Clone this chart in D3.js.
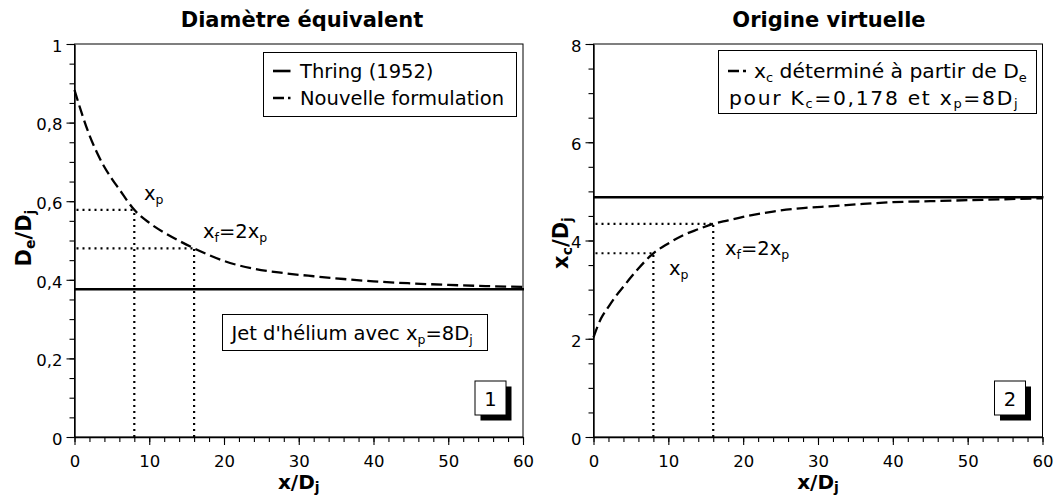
<!DOCTYPE html>
<html><head><meta charset="utf-8">
<script src="https://cdn.jsdelivr.net/npm/d3@7"></script>
<style>body{margin:0;background:#fff}svg{display:block;font-family:"DejaVu Sans",sans-serif}</style>
</head><body><svg id="c" width="1062" height="495"></svg>
<script>
// ---- data ----
const xValues = [0,1,2,3,4,5,6,8,10,12,14,16,18,20,24,28,32,36,40,45,50,55,60];
const deNouvelle = [0.883,0.822,0.768,0.724,0.687,0.657,0.630,0.578,0.545,0.520,0.499,0.480,0.463,0.448,0.428,0.417,0.409,0.402,0.396,0.391,0.387,0.384,0.382];
const deThring = 0.376;
const xcNouvelle = [2.03,2.41,2.65,2.87,3.06,3.25,3.43,3.74,3.94,4.11,4.23,4.34,4.41,4.48,4.59,4.66,4.70,4.745,4.78,4.80,4.82,4.84,4.86];
const xcLimite = 4.88;
const xMarks = [8,16];
const deMarks = [0.578,0.480];
const xcMarks = [3.74,4.34];
const xTickValues = [0,10,20,30,40,50,60];
const deTickValues = [0,0.2,0.4,0.6,0.8,1];
const xcTickValues = [0,2,4,6,8];

const svg = d3.select('#c');
const FS = 19.5, SUB = 12.5, SH = 3.5;

function rich(t, parts, subSize, shift){
  let prev = false;
  parts.forEach(([s, sub]) => {
    const ts = t.append('tspan').text(s);
    if (sub) ts.attr('font-size', subSize);
    if (sub && !prev) ts.attr('dy', shift);
    if (!sub && prev) ts.attr('dy', -shift);
    prev = sub;
  });
  return t;
}
const fmt = d => String(d).replace('.', ',');

function panel(o){
  const x = d3.scaleLinear().domain([0,60]).range(o.xr);
  const y = d3.scaleLinear().domain(o.yd).range([437,44]);
  const g = svg.append('g');
  g.append('rect').attr('x', o.xr[0]).attr('y', 44).attr('width', o.xr[1]-o.xr[0]).attr('height', 393)
    .attr('fill','none').attr('stroke','#000').attr('stroke-width',1);
  const xm = d3.range(0, 60.01, 2), ym = d3.range(o.yd[0], o.yd[1]+1e-9, o.minor);
  g.append('g').attr('transform',`translate(0,437)`).call(d3.axisBottom(x).tickValues(xm).tickSize(5).tickFormat('').tickSizeOuter(0))
    .call(a=>a.select('.domain').remove());
  g.append('g').attr('transform',`translate(${o.xr[0]},0)`).call(d3.axisLeft(y).tickValues(ym).tickSize(5).tickFormat('').tickSizeOuter(0))
    .call(a=>a.select('.domain').remove());
  const ax = g.append('g').attr('transform',`translate(0,437)`).call(d3.axisBottom(x).tickValues(xTickValues).tickSize(8).tickPadding(10).tickSizeOuter(0));
  const ay = g.append('g').attr('transform',`translate(${o.xr[0]},0)`).call(d3.axisLeft(y).tickValues(o.yt).tickSize(8).tickPadding(4).tickFormat(fmt).tickSizeOuter(0));
  [ax, ay].forEach(a => {
    a.selectAll('text').attr('font-size',16.5).attr('font-family','"DejaVu Sans"').attr('fill','#000');
    a.select('.domain').attr('stroke-width',1.4);
  });
  ay.selectAll('text').attr('dy','0.44em');
  g.selectAll('.tick line').attr('stroke','#000').attr('stroke-width',1.1);

  const dots = g.append('g').attr('stroke','#000').attr('stroke-width',2.2).attr('stroke-dasharray','2,4');
  xMarks.forEach((m,i) => {
    const v = o.marks[i];
    dots.append('line').attr('x1',x(0)+2).attr('x2',x(m)).attr('y1',y(v)).attr('y2',y(v));
    dots.append('line').attr('x1',x(m)).attr('x2',x(m)).attr('y1',y(0)).attr('y2',y(v));
  });
  g.append('line').attr('x1',x(0)).attr('x2',x(60)+1).attr('y1',y(o.cst)).attr('y2',y(o.cst))
    .attr('stroke','#000').attr('stroke-width',2.6);
  const line = d3.line().x((d,i)=>x(xValues[i])).y(d=>y(d)).curve(d3.curveMonotoneX);
  g.append('path').datum(o.series).attr('d',line).attr('fill','none').attr('stroke','#000')
    .attr('stroke-width',2.3).attr('stroke-dasharray','11,5');
  g.append('text').attr('x',o.titleX).attr('y',27).attr('text-anchor','middle').attr('font-weight','bold')
    .attr('font-size',21).text(o.title);
  rich(g.append('text').attr('x',(o.xr[0]+o.xr[1])/2).attr('y',489).attr('text-anchor','middle')
    .attr('font-weight','bold').attr('font-size',20), [['x/D',false],['j',true]], 14, 3);
  rich(g.append('text').attr('transform',`translate(${o.ylabX},${o.ylabY}) rotate(-90)`).attr('text-anchor','middle')
    .attr('font-weight','bold').attr('font-size',21), o.ylab, 14, 4);
  const bx = o.xr[1]-48, by = 381;
  g.append('rect').attr('x',bx+5.5).attr('y',by+5.5).attr('width',31).attr('height',34).attr('fill','#000');
  g.append('rect').attr('x',bx).attr('y',by).attr('width',31).attr('height',34).attr('fill','#fff').attr('stroke','#000');
  g.append('text').attr('x',bx+15.5).attr('y',by+25).attr('text-anchor','middle').attr('font-size',FS).text(o.num);
  return {x, y, g};
}

const L = panel({xr:[74.5,523], yd:[0,1], yt:deTickValues, minor:0.05, marks:deMarks, cst:deThring,
  series:deNouvelle, title:'Diamètre équivalent', titleX:302, ylab:[['D',false],['e',true],['/D',false],['j',true]],
  ylabX:31, ylabY:238, num:'1'});
const R = panel({xr:[593.5,1042.5], yd:[0,8], yt:xcTickValues, minor:0.5, marks:xcMarks, cst:xcLimite,
  series:xcNouvelle, title:'Origine virtuelle', titleX:829, ylab:[['x',false],['c',true],['/D',false],['j',true]],
  ylabX:568, ylabY:243, num:'2'});

rich(L.g.append('text').attr('x',144).attr('y',200).attr('font-size',FS), [['x',false],['p',true]], SUB, SH);
rich(L.g.append('text').attr('x',203).attr('y',238).attr('font-size',FS), [['x',false],['f',true],['=2x',false],['p',true]], SUB, SH);
rich(R.g.append('text').attr('x',669).attr('y',275).attr('font-size',FS), [['x',false],['p',true]], SUB, SH);
rich(R.g.append('text').attr('x',725).attr('y',255).attr('font-size',FS), [['x',false],['f',true],['=2x',false],['p',true]], SUB, SH);

const lg = svg.append('g');
lg.append('rect').attr('x',263.5).attr('y',52.5).attr('width',253).attr('height',64).attr('fill','#fff').attr('stroke','#000');
lg.append('line').attr('x1',273).attr('x2',290.5).attr('y1',71).attr('y2',71).attr('stroke','#000').attr('stroke-width',2.6);
lg.append('text').attr('x',300).attr('y',78).attr('font-size',FS).text('Thring (1952)');
lg.append('line').attr('x1',273).attr('x2',290.5).attr('y1',98).attr('y2',98).attr('stroke','#000').attr('stroke-width',2.3).attr('stroke-dasharray','11,4');
lg.append('text').attr('x',300).attr('y',104.5).attr('font-size',FS).text('Nouvelle formulation');

lg.append('rect').attr('x',222.5).attr('y',314.5).attr('width',265).attr('height',36).attr('fill','#fff').attr('stroke','#000');
rich(lg.append('text').attr('x',231.5).attr('y',340).attr('font-size',FS),
  [["Jet d'hélium avec x",false],['p',true],['=8D',false],['j',true]], SUB, SH);

const rg = svg.append('g');
rg.append('rect').attr('x',718.5).attr('y',50.5).attr('width',318).attr('height',63).attr('fill','#fff').attr('stroke','#000');
rg.append('line').attr('x1',728).attr('x2',746).attr('y1',71).attr('y2',71).attr('stroke','#000').attr('stroke-width',2.3).attr('stroke-dasharray','11,4');
rich(rg.append('text').attr('x',754).attr('y',78).attr('font-size',20.3),
  [['x',false],['c',true],[' déterminé à partir de D',false],['e',true]], 13, SH);
rich(rg.append('text').attr('x',729).attr('y',104.5).attr('font-size',20.3).attr('letter-spacing','1.7px'),
  [['pour K',false],['c',true],['=0,178 et x',false],['p',true],['=8D',false],['j',true]], 13, SH);
</script></body></html>
